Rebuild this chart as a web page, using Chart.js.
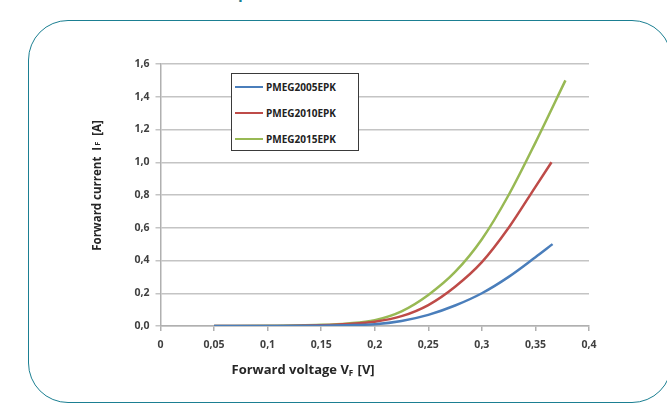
<!DOCTYPE html>
<html>
<head>
<meta charset="utf-8">
<script src="https://cdn.jsdelivr.net/npm/chart.js@4.4.1/dist/chart.umd.min.js"></script>
<style>
  body { margin: 0; background: #fff; }
  #wrap { position: relative; width: 667px; height: 403px; overflow: hidden; }
  #head { position: absolute; left: 107px; top: -19px; font: bold 15.5px "Open Sans"; color: #1b7f92; white-space: nowrap; }
  #frame { position: absolute; left: 28px; top: 20px; width: 642px; height: 381px; border: 1.5px solid #1b7f92; border-radius: 40px; }
  canvas { position: absolute; left: 0; top: 0; }
  #legend { position: absolute; left: 231px; top: 73px; width: 126px; height: 76px; border: 1px solid #3a3a3a; background: #fff; }
  #legend div { height: 26px; display: flex; align-items: center; font: bold 10px "Open Sans"; color: #222; }
  #legend span { display: inline-block; width: 28px; height: 2.5px; margin: 0 3px 0 3px; }
</style>
</head>
<body>
<div id="wrap">
  <div id="head">Forward current performance</div>
  <div id="frame"></div>
  <canvas id="myChart" width="667" height="403"></canvas>
  <div id="legend"></div>
</div>
<script>
// values
const seriesNames = ['PMEG2005EPK', 'PMEG2010EPK', 'PMEG2015EPK'];
const seriesColors = ['#4a7ebb', '#be4b48', '#98b954'];

const vf2005 = [0.05, 0.1, 0.15, 0.175, 0.2, 0.225, 0.25, 0.275, 0.3, 0.325, 0.35, 0.366];
const if2005 = [0, 0.0003, 0.002, 0.005, 0.011, 0.031, 0.068, 0.125, 0.20, 0.30, 0.42, 0.50];

const vf2010 = [0.05, 0.1, 0.15, 0.175, 0.2, 0.225, 0.25, 0.275, 0.3, 0.325, 0.35, 0.365];
const if2010 = [0, 0.0005, 0.005, 0.012, 0.026, 0.06, 0.128, 0.24, 0.39, 0.60, 0.85, 1.0];

const vf2015 = [0.05, 0.1, 0.15, 0.175, 0.2, 0.225, 0.25, 0.275, 0.3, 0.325, 0.35, 0.378];
const if2015 = [0, 0.001, 0.007, 0.016, 0.036, 0.09, 0.19, 0.33, 0.53, 0.80, 1.12, 1.5];

const xTickLabels = ['0', '0,05', '0,1', '0,15', '0,2', '0,25', '0,3', '0,35', '0,4'];
const yTickLabels = ['0,0', '0,2', '0,4', '0,6', '0,8', '1,0', '1,2', '1,4', '1,6'];

const vfs = [vf2005, vf2010, vf2015];
const ifs = [if2005, if2010, if2015];

function pts(xs, ys) {
    return xs.map((x, i) => ({ x: x, y: ys[i] }));
}

// axis titles with subscripts
const axisTitles = {
    id: 'axisTitles',
    afterDraw(chart) {
        const ctx = chart.ctx;
        const a = chart.chartArea;
        ctx.save();
        ctx.fillStyle = '#262626';
        ctx.textBaseline = 'alphabetic';
        // x title
        let x = a.left + 71;
        const y = 374;
        ctx.font = 'bold 13px "Open Sans"';
        let t = 'Forward voltage V';
        ctx.fillText(t, x, y);
        x += ctx.measureText(t).width;
        ctx.font = 'bold 8px "Open Sans"';
        ctx.fillText('F', x, y + 2);
        x += ctx.measureText('F').width + 1;
        ctx.font = 'bold 13px "Open Sans"';
        ctx.fillText(' [V]', x, y);
        // y title
        ctx.translate(101, 186);
        ctx.rotate(-Math.PI / 2);
        ctx.font = 'bold 11.5px "Open Sans"';
        const p1 = 'Forward current  I', p2 = 'F', p3 = '  [A]';
        const w1 = ctx.measureText(p1).width;
        const w3 = ctx.measureText(p3).width;
        ctx.font = 'bold 7.5px "Open Sans"';
        const w2 = ctx.measureText(p2).width;
        let sx = -(w1 + w2 + w3) / 2;
        ctx.font = 'bold 11.5px "Open Sans"';
        ctx.fillText(p1, sx, 0);
        sx += w1 + 1;
        ctx.font = 'bold 7.5px "Open Sans"';
        ctx.fillText(p2, sx, -1);
        sx += w2;
        ctx.font = 'bold 11.5px "Open Sans"';
        ctx.fillText(p3, sx, 0);
        ctx.restore();
    }
};

const ctx = document.getElementById('myChart').getContext('2d');
const myChart = new Chart(ctx, {
    type: 'line',
    data: {
        datasets: seriesNames.map((name, i) => ({
            label: name,
            data: pts(vfs[i], ifs[i]),
            borderColor: seriesColors[i],
            backgroundColor: seriesColors[i],
            borderWidth: 2.5,
            pointRadius: 0,
            cubicInterpolationMode: 'monotone',
            fill: false
        }))
    },
    options: {
        responsive: false,
        animation: false,
        layout: { padding: { left: 100, right: 78, top: 64, bottom: 37 } },
        plugins: { legend: { display: false }, tooltip: { enabled: false } },
        scales: {
            x: {
                type: 'linear',
                min: 0,
                max: 0.4,
                ticks: {
                    stepSize: 0.05,
                    padding: 8,
                    color: '#404040',
                    font: { family: 'Open Sans', size: 10.5, weight: 'bold' },
                    maxRotation: 0,
                    callback: (v, i) => xTickLabels[i]
                },
                grid: { drawOnChartArea: false, drawTicks: true, tickLength: 5, color: '#b0b0b0', lineWidth: 1.5 },
                border: { color: '#b0b0b0', width: 1.5 },
                afterFit: (s) => { s.height = 40; }
            },
            y: {
                min: 0,
                max: 1.6,
                ticks: {
                    stepSize: 0.2,
                    padding: 6,
                    color: '#404040',
                    font: { family: 'Open Sans', size: 10.5, weight: 'bold' },
                    callback: (v, i) => yTickLabels[i]
                },
                grid: { color: '#c4c4c4', lineWidth: 1.5, tickLength: 5 },
                border: { color: '#b0b0b0', width: 1.5 },
                afterFit: (s) => { s.width = 60.5; }
            }
        }
    },
    plugins: [axisTitles]
});

// legend box drawn as html from the datasets
const leg = document.getElementById('legend');
myChart.data.datasets.forEach(ds => {
    const row = document.createElement('div');
    const sw = document.createElement('span');
    sw.style.background = ds.borderColor;
    row.appendChild(sw);
    row.appendChild(document.createTextNode(ds.label));
    leg.appendChild(row);
});
</script>
</body>
</html>
